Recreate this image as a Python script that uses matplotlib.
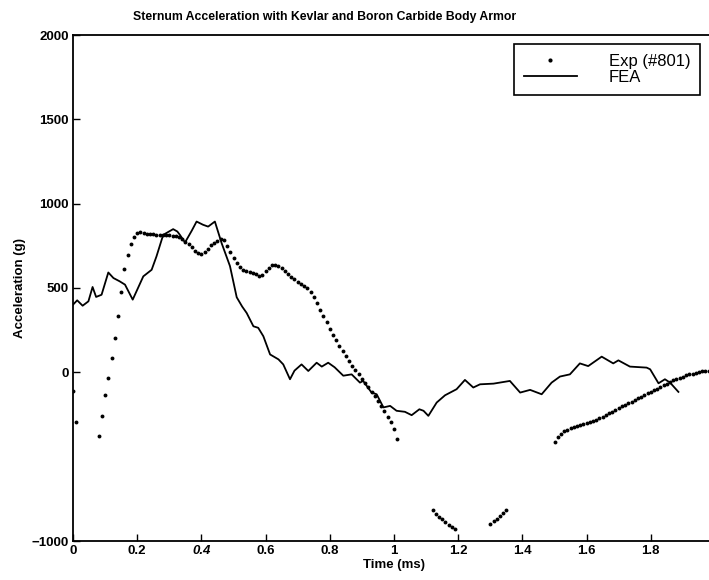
import numpy as np
import matplotlib
matplotlib.use("Agg")
import matplotlib.pyplot as plt
from matplotlib.lines import Line2D

plt.rcParams['font.family'] = ['Liberation Sans', 'DejaVu Sans']

# ---- Data ----
title = "Sternum Acceleration with Kevlar and Boron Carbide Body Armor"
xlabel = "Time (ms)"
ylabel = "Acceleration (g)"

x_ticks = [0, 0.2, 0.4, 0.6, 0.8, 1.0, 1.2, 1.4, 1.6, 1.8]
x_tick_labels = ["0", "0.2", "0.4", "0.6", "0.8", "1", "1.2", "1.4", "1.6", "1.8"]
y_ticks = [-1000, 0, 500, 1000, 1500, 2000]
y_tick_labels = ["\u22121000", "0", "500", "1000", "1500", "2000"]

# Experimental (#801) dots
exp_t1 = [0.00, 0.01, 0.08, 0.09, 0.10, 0.11, 0.12, 0.13, 0.14, 0.15, 0.16, 0.17,
          0.18, 0.19, 0.20, 0.21, 0.22, 0.23, 0.24, 0.25, 0.26, 0.27, 0.28, 0.29,
          0.30, 0.31, 0.32, 0.33, 0.34, 0.35, 0.36, 0.37, 0.38, 0.39, 0.40, 0.41,
          0.42, 0.43, 0.44, 0.45, 0.46, 0.47, 0.48, 0.49, 0.50, 0.51, 0.52, 0.53,
          0.54, 0.55, 0.56, 0.57, 0.58, 0.59, 0.60, 0.61, 0.62, 0.63, 0.64, 0.65,
          0.66, 0.67, 0.68, 0.69, 0.70, 0.71, 0.72, 0.73, 0.74, 0.75, 0.76, 0.77,
          0.78, 0.79, 0.80, 0.81, 0.82, 0.83, 0.84, 0.85, 0.86, 0.87, 0.88, 0.89,
          0.90, 0.91, 0.92, 0.93, 0.94, 0.95, 0.96, 0.97, 0.98, 0.99, 1.00, 1.01]
exp_a1 = [-110, -293, -380, -258, -136, -31, 83, 201, 333, 474, 612, 697,
          762, 801, 825, 831, 828, 822, 820, 818, 816, 815, 815, 815,
          813, 811, 808, 800, 788, 775, 760, 745, 722, 706, 704, 716,
          733, 752, 768, 780, 790, 782, 750, 716, 680, 648, 625, 608,
          600, 593, 590, 582, 574, 580, 598, 618, 634, 638, 630, 616,
          600, 585, 568, 552, 537, 524, 512, 498, 474, 445, 410, 372,
          334, 296, 258, 224, 190, 156, 126, 96, 67, 40, 16, -10,
          -38, -61, -88, -114, -140, -168, -198, -228, -262, -296, -336, -396]

exp_t2 = [1.12, 1.13, 1.14, 1.15, 1.16, 1.17, 1.18, 1.19]
exp_a2 = [-815, -838, -856, -872, -889, -904, -917, -927]

exp_t3 = [1.30, 1.31, 1.32, 1.33, 1.34, 1.35]
exp_a3 = [-900, -884, -867, -850, -832, -815]

exp_t4 = [1.50, 1.51, 1.52, 1.53, 1.54, 1.55, 1.56, 1.57, 1.58, 1.59, 1.60, 1.61,
          1.62, 1.63, 1.64, 1.65, 1.66, 1.67, 1.68, 1.69, 1.70, 1.71, 1.72, 1.73,
          1.74, 1.75, 1.76, 1.77, 1.78, 1.79, 1.80, 1.81, 1.82, 1.83, 1.84, 1.85,
          1.86, 1.87, 1.88, 1.89, 1.90, 1.91, 1.92, 1.93, 1.94, 1.95, 1.96, 1.97, 1.98]
exp_a4 = [-411, -385, -365, -350, -340, -333, -326, -320, -314, -308, -302, -296,
          -290, -280, -270, -262, -252, -243, -235, -225, -212, -202, -193, -183,
          -173, -164, -155, -145, -136, -124, -114, -104, -96, -87, -78, -67,
          -57, -48, -40, -32, -25, -18, -12, -7, -2, 2, 5, 8, 10]

# FEA solid line
fea_t = [0.0, 0.013, 0.03, 0.048, 0.061, 0.072, 0.089, 0.11, 0.126, 0.145, 0.162,
         0.186, 0.219, 0.245, 0.26, 0.281, 0.312, 0.325, 0.333, 0.349, 0.37, 0.385,
         0.405, 0.421, 0.442, 0.463, 0.489, 0.51, 0.527, 0.541, 0.562, 0.577, 0.593,
         0.614, 0.64, 0.655, 0.676, 0.69, 0.712, 0.733, 0.759, 0.775, 0.795, 0.815,
         0.842, 0.868, 0.894, 0.904, 0.93, 0.946, 0.967, 0.988, 1.008, 1.034, 1.055,
         1.079, 1.092, 1.107, 1.133, 1.159, 1.195, 1.221, 1.247, 1.268, 1.31, 1.361,
         1.393, 1.424, 1.46, 1.491, 1.517, 1.548, 1.579, 1.605, 1.647, 1.683, 1.699,
         1.735, 1.787, 1.798, 1.824, 1.844, 1.86, 1.886]
fea_a = [401, 427, 395, 421, 506, 447, 460, 592, 559, 540, 520,
         431, 569, 608, 687, 815, 849, 835, 815, 770, 840, 894,
         875, 864, 894, 766, 630, 445, 390, 352, 273, 264, 214,
         106, 77, 47, -41, 10, 47, 8, 57, 34, 57, 30,
         -20, -12, -61, -51, -120, -130, -208, -199, -228, -234, -254,
         -219, -228, -258, -179, -136, -100, -45, -90, -71, -67, -51,
         -120, -104, -130, -61, -25, -12, 53, 37, 93, 53, 71,
         34, 28, 18, -65, -41, -61, -116]

# ---- Figure ----
fig = plt.figure(figsize=(7.09, 5.80), dpi=100)
ax = fig.add_axes([73 / 709, 39 / 580, 642 / 709, 506 / 580])

dot_kw = dict(linestyle='none', marker='o', markersize=2.8, color='black',
              markeredgewidth=0)
ax.plot(exp_t1, exp_a1, **dot_kw)
ax.plot(exp_t2, exp_a2, **dot_kw)
ax.plot(exp_t3, exp_a3, **dot_kw)
ax.plot(exp_t4, exp_a4, **dot_kw)
ax.plot(fea_t, fea_a, color='black', linewidth=1.3)

ax.set_xlim(0, 2.0)
ax.set_ylim(-1000, 2000)
ax.set_xticks(x_ticks)
ax.set_xticklabels(x_tick_labels)
ax.set_yticks(y_ticks)
ax.set_yticklabels(y_tick_labels)
ax.tick_params(direction='in', length=5, width=1, labelsize=9.5, pad=3)
for lab in ax.get_xticklabels() + ax.get_yticklabels():
    lab.set_fontweight('bold')
ax.get_xticklabels()[2].set_fontstyle('italic')
for s in ax.spines.values():
    s.set_linewidth(1.3)

ax.set_xlabel(xlabel, fontsize=9.5, fontweight='bold', labelpad=1)
ax.set_ylabel(ylabel, fontsize=9.5, fontweight='bold', labelpad=4)
fig.text(325 / 709, 1 - 17 / 580, title, ha='center', va='center',
         fontsize=8.8, fontweight='bold')

handles = [Line2D([], [], linestyle='none', marker='o', markersize=3,
                  color='black', markeredgewidth=0),
           Line2D([], [], color='black', linewidth=1.3)]
leg = ax.legend(handles, ["Exp (#801)", "FEA"], loc='upper right',
                bbox_to_anchor=(0.977, 0.982), fontsize=12, frameon=True,
                fancybox=False, edgecolor='black', framealpha=1,
                handlelength=3.2, handletextpad=1.9, labelspacing=0.05,
                borderpad=0.6, borderaxespad=0)
leg.get_frame().set_linewidth(1.2)

fig.savefig("out.png", dpi=100)
